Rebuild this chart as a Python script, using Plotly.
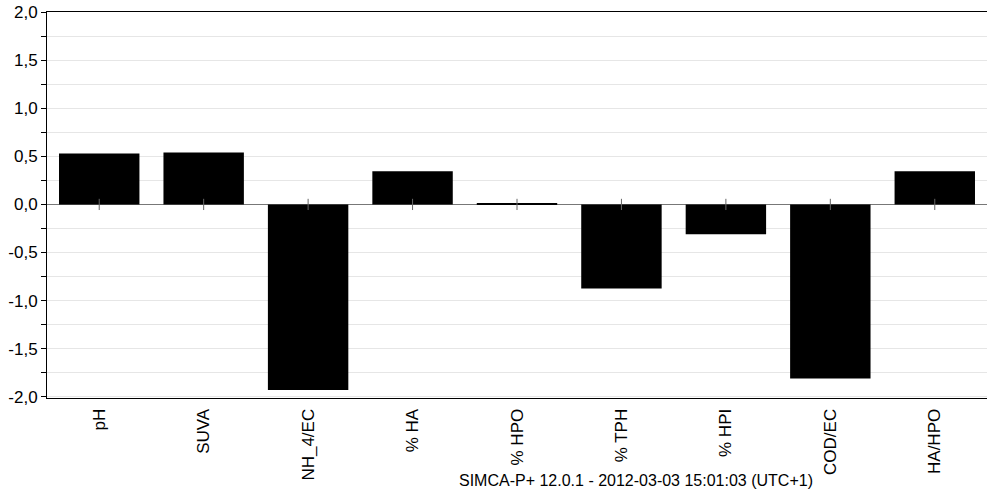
import plotly.graph_objects as go

categories = ["pH", "SUVA", "NH_4/EC", "% HA", "% HPO", "% TPH", "% HPI", "COD/EC", "HA/HPO"]
values = [0.53, 0.54, -1.93, 0.345, 0.015, -0.875, -0.31, -1.81, 0.345]
y_tick_vals = [-2.0, -1.5, -1.0, -0.5, 0.0, 0.5, 1.0, 1.5, 2.0]
y_tick_text = ["-2,0", "-1,5", "-1,0", "-0,5", "0,0", "0,5", "1,0", "1,5", "2,0"]
footer = "SIMCA-P+ 12.0.1 - 2012-03-03 15:01:03 (UTC+1)"

fig = go.Figure()
fig.add_trace(go.Bar(x=categories, y=values, marker=dict(color="black", line=dict(width=0)),
                     showlegend=False, hoverinfo="x+y"))
# small tick marks on the zero line at each category
fig.add_trace(go.Scatter(x=categories, y=[0] * len(categories), mode="markers",
                         marker=dict(symbol="line-ns", size=8, line=dict(width=1, color="#666666")),
                         showlegend=False, hoverinfo="skip"))

fig.update_layout(
    width=987, height=490,
    margin=dict(l=47, r=0, t=12, b=92),
    paper_bgcolor="white", plot_bgcolor="white",
    bargap=0.23,
    separators=",.",
    font=dict(family="Liberation Sans, Arial, sans-serif", size=17, color="black"),
    annotations=[dict(text=footer, xref="paper", yref="paper", x=0.627, y=-0.213,
                      xanchor="center", yanchor="middle", showarrow=False,
                      font=dict(size=16, color="black"))],
)
fig.update_xaxes(
    type="category", tickangle=-90, showline=True, linecolor="black", linewidth=1,
    mirror=True, ticks="", showgrid=False, zeroline=False, ticklabelstandoff=3,
    tickfont=dict(size=17),
)
fig.update_yaxes(
    range=[-2.012, 2.0], tickvals=y_tick_vals, ticktext=y_tick_text,
    showline=True, linecolor="black", linewidth=1, mirror=False,
    ticks="outside", ticklen=5, tickcolor="black",
    showgrid=True, gridcolor="#e6e6e6", gridwidth=1,
    minor=dict(dtick=0.25, tick0=0, ticks="outside", ticklen=5, tickcolor="black",
               showgrid=True, gridcolor="#e6e6e6", gridwidth=1),
    zeroline=True, zerolinecolor="#777777", zerolinewidth=1,
    tickfont=dict(size=17),
)

fig.write_html("out.html", config={"displayModeBar": False},
               post_script="document.body.style.margin='0';document.body.style.overflow='hidden';")
